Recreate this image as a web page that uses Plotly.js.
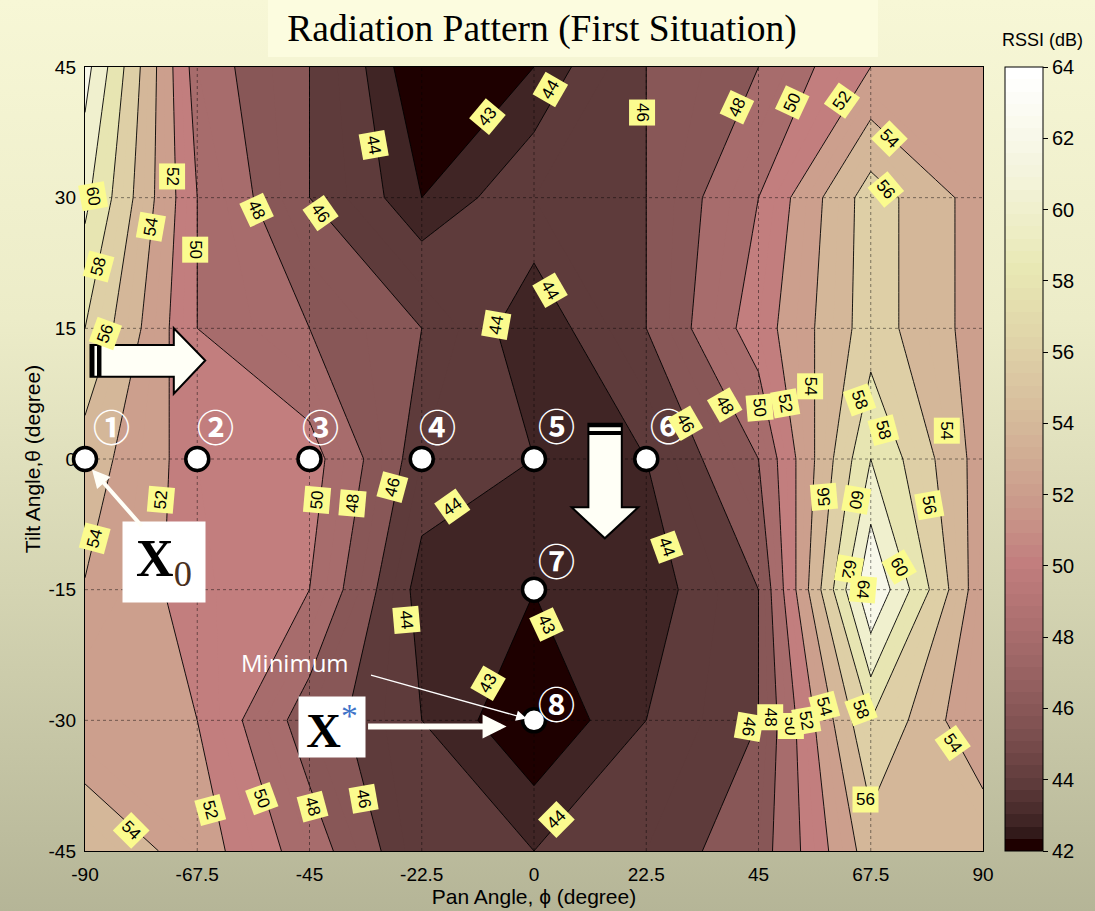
<!DOCTYPE html>
<html>
<head>
<meta charset="utf-8">
<script src="https://cdn.plot.ly/plotly-3.0.1.min.js"></script>
<style>
html, body { margin: 0; padding: 0; }
body { width: 1095px; height: 911px; overflow: hidden;
  background: linear-gradient(to bottom, #f7f7d6 0%, #ececc8 35%, #d4d4b2 65%, #b5b597 100%); }
#chart { width: 1095px; height: 911px; }
</style>
</head>
<body>
<div id="chart"></div>
<script>
// ---------------- data ----------------
const pan = [-90, -67.5, -45, -22.5, 0, 22.5, 45, 67.5, 90];
const tilt = [-45, -30, -15, 0, 15, 30, 45];
const rssiTiltM45 = [55.9, 53, 49, 44.3, 44, 45, 47, 55, 55.8];
const rssiTiltM30 = [52.2, 52, 47, 44, 42, 44, 46, 58, 52];
const rssiTiltM15 = [53.9, 51.2, 50, 43.3, 43.02, 43.2, 46, 64, 52.5];
const rssiTilt0   = [55, 51, 50.8, 45, 44, 44, 48, 60, 53];
const rssiTiltP15 = [58, 50, 48, 46, 43, 46, 51, 57, 53];
const rssiTiltP30 = [60.5, 50, 46, 43, 45, 46, 50, 57, 53];
const rssiTiltP45 = [62.8, 49, 46, 42, 43, 46, 48, 52, 53];
const rssi = [rssiTiltM45, rssiTiltM30, rssiTiltM15, rssiTilt0, rssiTiltP15, rssiTiltP30, rssiTiltP45];

const contourLevels = [43, 44, 46, 48, 50, 52, 54, 56, 58, 60, 62, 64];
const colorbarTicks = [42, 44, 46, 48, 50, 52, 54, 56, 58, 60, 62, 64];
const panTickText = ['-90', '-67.5', '-45', '-22.5', '0', '22.5', '45', '67.5', '90'];
const tiltTickText = ['-45', '-30', '-15', '0', '15', '30', '45'];

const searchPan = [-90, -67.5, -45, -22.5, 0, 22.5, 0, 0];
const searchTilt = [0, 0, 0, 0, 0, 0, -15, -30];
const searchStepNames = ['①', '②', '③', '④', '⑤', '⑥', '⑦', '⑧'];

// contour label texts
const labelText = ['60','52','54','50','58','56','48','46','44','43','44','46','48','50','52','54','56',
  '44','44','46','48','50','52','54','58','58','54',
  '52','54','50','48','46','44','44','56','60','56','62','64','60',
  '44','43','43','46','48','50','52','54','58','54','56','44',
  '52','50','48','46','54'];

// ---------------- layout-only positions ----------------
const stepLabelX = [-84.6, -63.9, -42.7, -19.4, 4.6, 26.9, 4.6, 4.6];
const stepLabelY = [3.8, 3.8, 3.8, 3.8, 3.9, 3.9, -11.6, -28.0];
const labelX = [-88.4,-72.6,-76.8,-68.0,-87.3,-85.9,-55.7,-42.7,-32.1,-9.3,3.3,21.7,40.6,51.8,61.7,71.2,70.5,
  3.3,-7.5,30.4,38.1,45.2,50.4,55.3,65.2,70.1,82.8,
  -74.7,-88.1,-43.4,-36.4,-28.3,-16.3,26.5,58.1,64.5,79.3,63.1,65.9,73.3,
  -25.5,2.5,-9.2,43.1,47.3,51.5,54.6,58.2,65.5,83.8,66.4,4.5,
  -64.8,-54.6,-44.4,-34.2,-80.7];
const labelY = [30.1,32.4,26.7,24.0,22.1,14.4,28.6,28.2,36.0,39.3,42.4,39.8,40.4,40.9,41.2,36.8,30.9,
  19.4,15.4,4.1,6.2,5.9,6.4,8.3,6.8,3.3,3.3,
  -4.7,-9.1,-4.7,-5.1,-3.2,-5.5,-10.1,-4.3,-4.7,-5.3,-12.7,-15.0,-12.4,
  -18.5,-19.0,-25.8,-30.7,-29.7,-30.7,-30.0,-28.4,-28.8,-32.6,-39.1,-41.4,
  -40.3,-39.0,-39.9,-39.0,-42.6];
const labelAngle = [80,90,-80,90,-75,-70,65,55,80,-50,-60,90,-65,-65,-55,45,50,
  60,-80,60,60,85,80,90,70,75,90,
  -85,-75,-85,-85,-75,-35,70,-95,100,80,100,95,60,
  85,65,-60,100,90,90,80,75,70,55,0,-45,
  75,70,75,80,45];

// ---------------- colour maps (MATLAB "pink") ----------------
function pinkRGB(idx) {
  const m = 64, n = 24;
  const g = (idx - 1) / (m - 1);
  const r = idx <= n ? idx / n : 1;
  const gg = idx <= n ? 0 : (idx <= 2 * n ? (idx - n) / n : 1);
  const b = idx <= 2 * n ? 0 : (idx - 2 * n) / (m - 2 * n);
  const f = v => Math.round(Math.sqrt((2 * g + v) / 3) * 255);
  return 'rgb(' + f(r) + ',' + f(gg) + ',' + f(b) + ')';
}
const cMin = colorbarTicks[0], cMax = colorbarTicks[colorbarTicks.length - 1];
function pinkAt(z) {
  let i = Math.floor((z - cMin) / (cMax - cMin) * 64) + 1;
  i = Math.max(1, Math.min(64, i));
  return pinkRGB(i);
}
const cbScale = [];
for (let k = 1; k <= 64; k++) {
  const c = pinkRGB(k);
  cbScale.push([(k - 1) / 64, c], [k / 64, c]);
}
// fill trace: levels cMin..cMax step 1, each band coloured like MATLAB's band
const fillSize = 1;
const nLev = Math.floor((cMax - cMin) / fillSize) + 1;
const fillScale = [];
for (let j = 0; j <= nLev; j++) {
  const L = cMin - fillSize + j * fillSize;
  const lowers = contourLevels.filter(v => v <= L);
  const lower = lowers.length ? lowers[lowers.length - 1] : cMin;
  const col = pinkAt(lower);
  fillScale.push([Math.max(0, (j - 0.5) / nLev), col], [Math.min(1, (j + 0.5) / nLev), col]);
}

// grid lines (drawn as a trace so that the search points sit above them)
const gridX = [], gridY = [];
pan.slice(1, -1).forEach(v => { gridX.push(v, v, null); gridY.push(tilt[0], tilt[tilt.length - 1], null); });
tilt.slice(1, -1).forEach(v => { gridX.push(pan[0], pan[pan.length - 1], null); gridY.push(v, v, null); });

// ---------------- traces ----------------
const traces = [
  { type: 'contour', x: pan, y: tilt, z: rssi, autocontour: false,
    contours: { start: cMin, end: cMax, size: fillSize, coloring: 'fill', showlines: false },
    colorscale: fillScale, showscale: false, line: { smoothing: 0, width: 0 }, hoverinfo: 'skip' },
  { type: 'contour', x: pan, y: tilt, z: rssi, autocontour: false,
    contours: { start: 44, end: 64, size: 2, coloring: 'none' },
    showscale: false, line: { smoothing: 0, width: 0.9, color: '#000' }, hoverinfo: 'skip' },
  { type: 'contour', x: pan, y: tilt, z: rssi, autocontour: false,
    contours: { start: 43, end: 43.5, size: 1, coloring: 'none' },
    showscale: false, line: { smoothing: 0, width: 0.9, color: '#000' }, hoverinfo: 'skip' },
  { type: 'scatter', x: gridX, y: gridY, mode: 'lines', hoverinfo: 'skip', showlegend: false,
    line: { color: 'rgba(0,0,0,0.45)', width: 1, dash: 'dot' } },
  { type: 'scatter', x: [null], y: [null], mode: 'markers', hoverinfo: 'skip', showlegend: false,
    marker: { color: [cMin], cmin: cMin, cmax: cMax, colorscale: cbScale, showscale: true,
      colorbar: { x: 1.0245, xanchor: 'left', xpad: 0, ypad: 0, y: 0.5, yanchor: 'middle', len: 1,
        thickness: 38, outlinecolor: '#000', outlinewidth: 1,
        tickvals: colorbarTicks, ticktext: colorbarTicks.map(String),
        ticks: 'outside', ticklen: 5, tickcolor: '#000',
        tickfont: { family: 'Liberation Sans, Arial, sans-serif', size: 20, color: '#000' } } } },
  { type: 'scatter', x: searchPan, y: searchTilt, mode: 'markers', cliponaxis: false, hoverinfo: 'skip', showlegend: false,
    marker: { size: 23, color: '#ffffff', line: { color: '#000', width: 3.5 } } }
];

// ---------------- shapes ----------------
const shapes = [];
shapes.push({ type: 'rect', xref: 'paper', yref: 'paper', x0: 0.2038, x1: 0.883, y0: 1.0128, y1: 1.09,
  fillcolor: '#fcfcdf', line: { width: 0 }, layer: 'below' });
// block arrows
shapes.push({ type: 'path', xref: 'x', yref: 'y', layer: 'above',
  path: 'M -88.9,13.1 L -72.2,13.1 L -72.2,15.0 L -65.9,11.3 L -72.2,7.5 L -72.2,9.45 L -88.9,9.45 Z',
  fillcolor: '#fffff6', line: { color: '#000', width: 2 } });
shapes.push({ type: 'rect', xref: 'x', yref: 'y', layer: 'above', x0: -88.9, x1: -88.1, y0: 9.45, y1: 13.1, fillcolor: '#000', line: { width: 0 } });
shapes.push({ type: 'rect', xref: 'x', yref: 'y', layer: 'above', x0: -87.6, x1: -86.7, y0: 9.45, y1: 13.1, fillcolor: '#000', line: { width: 0 } });
shapes.push({ type: 'path', xref: 'x', yref: 'y', layer: 'above',
  path: 'M 10.9,4.04 L 17.6,4.04 L 17.6,-5.55 L 20.9,-5.55 L 14.2,-9.1 L 7.55,-5.55 L 10.9,-5.55 Z',
  fillcolor: '#fffff6', line: { color: '#000', width: 2 } });
shapes.push({ type: 'rect', xref: 'x', yref: 'y', layer: 'above', x0: 10.9, x1: 17.6, y0: 3.65, y1: 4.04, fillcolor: '#000', line: { width: 0 } });
shapes.push({ type: 'rect', xref: 'x', yref: 'y', layer: 'above', x0: 10.9, x1: 17.6, y0: 2.75, y1: 3.2, fillcolor: '#000', line: { width: 0 } });

// ---------------- annotations ----------------
const annotations = [];
searchStepNames.forEach((t, i) => annotations.push({ x: stepLabelX[i], y: stepLabelY[i], xref: 'x', yref: 'y', text: '<b>' + t + '</b>',
  showarrow: false, font: { family: 'Noto Sans CJK JP, DejaVu Sans, sans-serif', size: 37, color: '#ffffff' } }));
labelText.forEach((t, i) => annotations.push({ x: labelX[i], y: labelY[i], xref: 'x', yref: 'y', text: t,
  textangle: labelAngle[i], showarrow: false, bgcolor: '#fbfb8e', borderpad: 3,
  font: { family: 'Liberation Sans, Arial, sans-serif', size: 17, color: '#000' } }));
annotations.push({ x: -74.2, y: -11.8, xref: 'x', yref: 'y', showarrow: false, bgcolor: '#ffffff',
  width: 80, height: 78, text: '<b>X</b><sub><span style="color:#4a3020">0</span></sub>',
  font: { family: 'Liberation Serif, Times New Roman, serif', size: 52, color: '#000' } });
annotations.push({ x: -40.5, y: -30.8, xref: 'x', yref: 'y', showarrow: false, bgcolor: '#ffffff',
  width: 64, height: 58, text: '<b>X</b><sup><span style="color:#3f73c8">*</span></sup>',
  font: { family: 'Liberation Serif, Times New Roman, serif', size: 48, color: '#000' } });
annotations.push({ x: -47.9, y: -23.4, xref: 'x', yref: 'y', showarrow: false, text: 'Minimum',
  font: { family: 'Open Sans, Liberation Sans, sans-serif', size: 24, color: '#ffffff' } });
annotations.push({ x: -88.6, y: -1.2, xref: 'x', yref: 'y', text: '', showarrow: true, ax: 51, ay: 58,
  arrowcolor: '#fffff8', arrowwidth: 4, arrowhead: 2, arrowsize: 0.9, standoff: 0 });
annotations.push({ x: -5.5, y: -30.7, xref: 'x', yref: 'y', text: '', showarrow: true, ax: -140, ay: 0,
  arrowcolor: '#fffff8', arrowwidth: 6, arrowhead: 2, arrowsize: 0.8, standoff: 0 });
annotations.push({ x: -1.5, y: -29.8, xref: 'x', yref: 'y', text: '', showarrow: true, ax: -157, ay: -44,
  arrowcolor: '#ffffff', arrowwidth: 1.3, arrowhead: 2, arrowsize: 1.6, standoff: 0 });
annotations.push({ x: 1.0668, y: 1.0344, xref: 'paper', yref: 'paper', xanchor: 'center', yanchor: 'middle',
  showarrow: false, text: 'RSSI (dB)',
  font: { family: 'Liberation Sans, Arial, sans-serif', size: 18, color: '#000' } });

const axisFont = { family: 'Liberation Sans, Arial, sans-serif', size: 19, color: '#000' };
const layout = {
  width: 1095, height: 911,
  margin: { l: 85, r: 112, t: 67, b: 60 },
  paper_bgcolor: 'rgba(0,0,0,0)', plot_bgcolor: 'rgba(0,0,0,0)',
  showlegend: false,
  title: { text: 'Radiation Pattern (First Situation)', x: 0.495, xanchor: 'center', y: 0.969, yanchor: 'middle',
    font: { family: 'Liberation Serif, Times New Roman, serif', size: 37.5, color: '#000' } },
  xaxis: { range: [pan[0], pan[pan.length - 1]], tickvals: pan, ticktext: panTickText,
    ticks: 'inside', ticklen: 6, tickcolor: '#000', mirror: 'ticks', showline: true, linecolor: '#000', linewidth: 1.2,
    showgrid: false, zeroline: false, layer: 'below traces', tickfont: axisFont, ticklabelstandoff: 6,
    title: { text: 'Pan Angle, ϕ (degree)', standoff: 2, font: { family: 'Liberation Sans, Arial, sans-serif', size: 21, color: '#000' } } },
  yaxis: { range: [tilt[0], tilt[tilt.length - 1]], tickvals: tilt, ticktext: tiltTickText,
    ticks: 'inside', ticklen: 6, tickcolor: '#000', mirror: 'ticks', showline: true, linecolor: '#000', linewidth: 1.2,
    showgrid: false, zeroline: false, layer: 'below traces', tickfont: axisFont, ticklabelstandoff: 4,
    title: { text: 'Tilt Angle,θ (degree)', standoff: 2, font: { family: 'Liberation Sans, Arial, sans-serif', size: 21, color: '#000' } } },
  shapes: shapes,
  annotations: annotations
};

Plotly.newPlot('chart', traces, layout, { displayModeBar: false, staticPlot: true });
</script>
</body>
</html>
